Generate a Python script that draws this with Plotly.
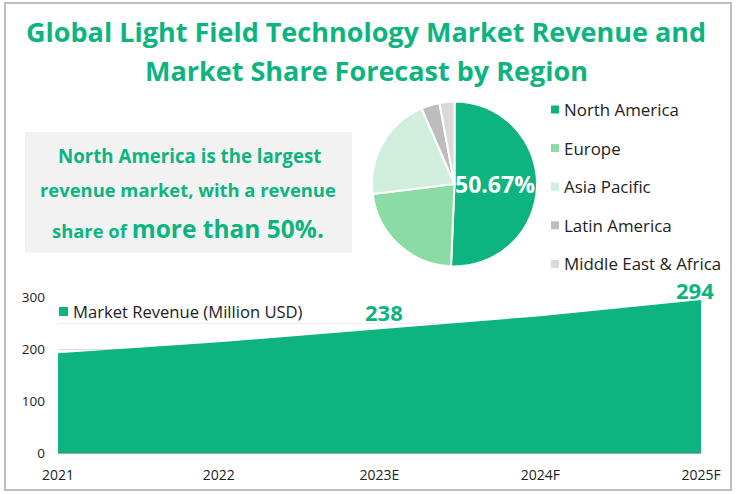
import plotly.graph_objects as go

# data
years = ["2021", "2022", "2023E", "2024F", "2025F"]
revenue = [192, 213, 238, 263, 294]
regions = ["North America", "Europe", "Asia Pacific", "Latin America", "Middle East & Africa"]
shares = [50.67, 22.4, 20.4, 3.6, 2.93]
region_colors = ["#0DB480", "#8ADBA4", "#CFEFDC", "#BDBDBD", "#D9D9D9"]

GREEN = "#0DB480"
FONT = "Open Sans"
W, H = 736, 494


def px(x):
    return x / W


def py(y):
    return 1 - y / H


fig = go.Figure()

fig.add_trace(go.Scatter(
    x=years, y=revenue, mode="lines", fill="tozeroy",
    fillcolor=GREEN, line=dict(color=GREEN, width=0), hoverinfo="skip", showlegend=False,
))

fig.add_trace(go.Pie(
    labels=regions, values=shares, sort=False, direction="clockwise", rotation=0,
    marker=dict(colors=region_colors, line=dict(color="white", width=2)),
    textinfo="none", showlegend=False,
    domain=dict(x=[px(372), px(537)], y=[py(267), py(101)]),
))

annotations = [
    dict(x=px(366), y=py(32), text="<b>Global Light Field Technology Market Revenue and</b>", font=dict(size=27, color=GREEN)),
    dict(x=px(366), y=py(71), text="<b>Market Share Forecast by Region</b>", font=dict(size=27, color=GREEN)),
    dict(x=px(189), y=py(155), text="<b>North America is the largest</b>", font=dict(size=18.7, color=GREEN)),
    dict(x=px(188), y=py(189), text="<b>revenue market, with a revenue</b>", font=dict(size=18.4, color=GREEN)),
    dict(x=px(188), y=py(228), text='<b>share of <span style="font-size:24.5px">more than 50%.</span></b>', font=dict(size=18.4, color=GREEN)),
    dict(x=px(495), y=py(184), text="<b>50.67%</b>", font=dict(size=23, color="white")),
    dict(x=px(384), y=py(312), text="<b>238</b>", font=dict(size=22, color=GREEN)),
    dict(x=px(695), y=py(290), text="<b>294</b>", font=dict(size=22, color=GREEN)),
    dict(x=px(71), y=py(311), text="Market Revenue (Million USD)", font=dict(size=16.6, color="#222222"), xanchor="left"),
]

shapes = [
    # outer frame and grey call-out box
    dict(type="rect", xref="paper", yref="paper", x0=px(5), x1=px(731), y0=py(3), y1=py(490),
         line=dict(color="#BFBFBF", width=2), layer="below"),
    dict(type="rect", xref="paper", yref="paper", x0=px(25), x1=px(352), y0=py(132), y1=py(253),
         fillcolor="#F2F2F2", line=dict(width=0), layer="below"),
    # area legend swatch
    dict(type="rect", xref="paper", yref="paper", x0=px(59), x1=px(68), y0=py(307), y1=py(316),
         fillcolor=GREEN, line=dict(width=0)),
]

# pie legend
for i, (name, color) in enumerate(zip(regions, region_colors)):
    yc = 109.5 + i * 38.6
    annotations.append(dict(x=px(562), y=py(yc), text=name, font=dict(size=16.9, color="#222222"), xanchor="left"))
    shapes.append(dict(type="rect", xref="paper", yref="paper", x0=px(551), x1=px(559),
                       y0=py(yc + 4), y1=py(yc - 4), fillcolor=color, line=dict(width=0)))

for a in annotations:
    a.update(xref="paper", yref="paper", showarrow=False)
    a.setdefault("xanchor", "center")
    a.setdefault("yanchor", "middle")

fig.update_layout(
    width=W, height=H,
    autosize=False,
    margin=dict(l=0, r=0, t=0, b=0),
    paper_bgcolor="white", plot_bgcolor="rgba(0,0,0,0)",
    font=dict(family=FONT, size=13, color="#222222"),
    annotations=annotations, shapes=shapes,
    xaxis=dict(type="category", range=[0, 4], domain=[px(58), px(701)], showgrid=False, showline=True,
               linecolor="#A6A6A6", ticks="", ticklen=0, tickfont=dict(size=14), automargin=False,
               ticklabelstandoff=9),
    yaxis=dict(range=[0, 300], domain=[py(453), py(297)], tickvals=[0, 100, 200, 300], gridcolor="#D9D9D9",
               showline=False, zeroline=False, tickfont=dict(size=13.5), automargin=False,
               ticklabelstandoff=12,
               minor=dict(tickvals=[250], showgrid=True, gridcolor="#EDEDED", gridwidth=1)),
)

# page margin off, so the figure fills the window
fig.write_html("out.html", config=dict(displayModeBar=False),
               post_script="document.body.style.margin='0';document.body.style.overflow='hidden';")
